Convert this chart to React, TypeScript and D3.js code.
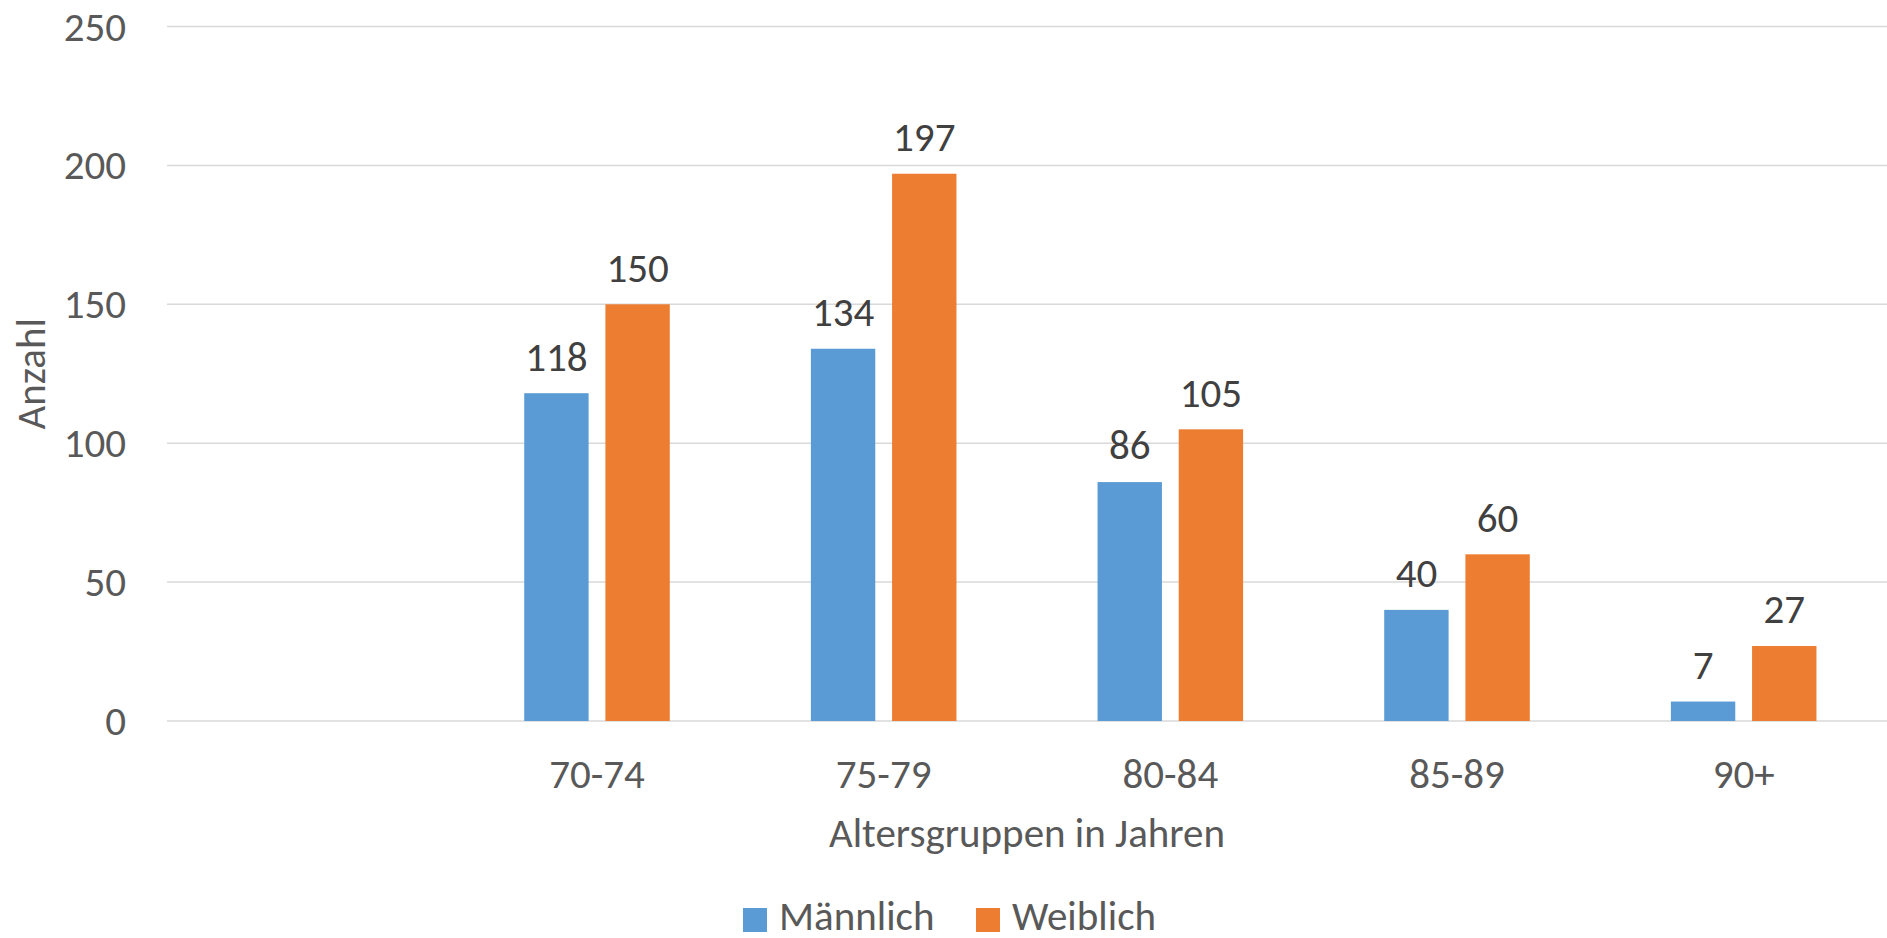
import React from "react";
import * as d3 from "d3";

const categories = ["", "70-74", "75-79", "80-84", "85-89", "90+"];
const seriesNames = ["Männlich", "Weiblich"];
const maleValues: (number | null)[] = [null, 118, 134, 86, 40, 7];
const femaleValues: (number | null)[] = [null, 150, 197, 105, 60, 27];
const yTicks = [0, 50, 100, 150, 200, 250];
const colors = ["#5B9BD5", "#ED7D31"];

const W = 1887;
const H = 938;
const FONT = "Carlito, Calibri, Lato, 'Open Sans', sans-serif";
const FS = 41;

export default function App() {
  const x = d3.scaleBand<string>().domain(categories).range([167, 1887]).padding(0);
  const inner = d3
    .scaleBand<string>()
    .domain(seriesNames)
    .range([0, x.bandwidth()])
    .paddingInner(0.207)
    .paddingOuter(0.869);
  const y = d3.scaleLinear().domain([0, 250]).range([721, 26.5]);
  const series = [maleValues, femaleValues];

  return (
    <svg
      width={W}
      height={H}
      style={{ position: "absolute", left: 0, top: 0, background: "#fff" }}
      fontFamily={FONT}
    >
      {yTicks.map((t) => (
        <g key={t}>
          <line x1={x.range()[0]} x2={x.range()[1]} y1={y(t)} y2={y(t)} stroke="#D9D9D9" strokeWidth={1.5} />
          <text x={126} y={y(t) + 14} textAnchor="end" fontSize={FS} fill="#595959">
            {t}
          </text>
        </g>
      ))}
      {categories.map((c, i) =>
        series.map((vals, s) => {
          const v = vals[i];
          if (v == null) return null;
          const bx = (x(c) as number) + (inner(seriesNames[s]) as number);
          const bw = inner.bandwidth();
          return (
            <g key={c + s}>
              <rect x={bx} y={y(v)} width={bw} height={y(0) - y(v)} fill={colors[s]} />
              <text x={bx + bw / 2} y={y(v) - 22.6} textAnchor="middle" fontSize={FS} fill="#404040">
                {v}
              </text>
            </g>
          );
        })
      )}
      {categories.map((c) => (
        <text
          key={"xl" + c}
          x={(x(c) as number) + x.bandwidth() / 2}
          y={788}
          textAnchor="middle"
          fontSize={FS}
          fill="#595959"
        >
          {c}
        </text>
      ))}
      <text x={(x.range()[0] + x.range()[1]) / 2} y={847} textAnchor="middle" fontSize={FS} fill="#595959">
        Altersgruppen in Jahren
      </text>
      <text
        transform={`translate(45, ${(y(0) + y(250)) / 2}) rotate(-90)`}
        textAnchor="middle"
        fontSize={FS}
        fill="#595959"
      >
        Anzahl
      </text>
      {seriesNames.map((n, s) => {
        const lx = [743, 976][s];
        return (
          <g key={n}>
            <rect x={lx} y={908} width={24} height={24} fill={colors[s]} />
            <text x={lx + 36} y={930} fontSize={FS} fill="#595959">
              {n}
            </text>
          </g>
        );
      })}
    </svg>
  );
}
